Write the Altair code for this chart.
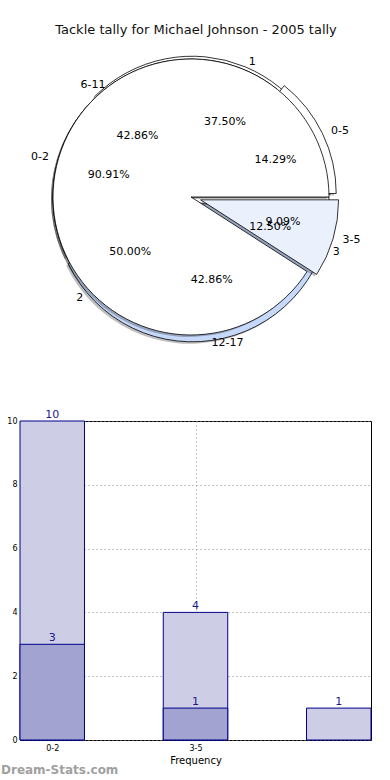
import math
import altair as alt
import pandas as pd

# ---------------- data ----------------
title_text = "Tackle tally for Michael Johnson - 2005 tally"

pie_a_labels = ["0-2", "3-5"]
pie_a_values = [10, 1]
pie_b_labels = ["0-5", "6-11", "12-17"]
pie_b_values = [1, 3, 3]
pie_c_labels = ["1", "2", "3"]
pie_c_values = [3, 4, 1]

bar_categories = ["0-2", "3-5"]
bar_total_values = [10, 4, 1]
bar_low_values = [3, 1]
x_title = "Frequency"
watermark = "Dream-Stats.com"

# ---------------- styles ----------------
FONT = "DejaVu Sans"
CX, CY, R = 171, 197, 138
RX, RY = 143, 130  # label ellipse
pie_a_colors = {"0-2": "#ffffff", "3-5": "#ebf1fc"}
pie_b_colors = {"0-5": "#ffffff", "6-11": "#ffffff", "12-17": "#c6d9fb"}
pie_c_colors = {"1": "#ffffff", "2": "#ffffff", "3": "#ffffff"}
pie_a_explode = {"3-5": 10}
pie_b_explode = {"0-5": 8, "12-17": 7}
pie_c_explode = {"1": 3}


def map_expr(d, default):
    expr = default
    for k, v in d.items():
        expr = f"datum.label === '{k}' ? {v} : ({expr})"
    return expr


def pie_base(labels, values, explode, colors):
    df = pd.DataFrame({"label": labels, "value": values})
    col_map = {k: f"'{v}'" for k, v in colors.items()}
    return (
        alt.Chart(df)
        .transform_joinaggregate(total="sum(value)")
        .transform_window(cum="sum(value)", frame=[None, 0])
        .transform_calculate(
            a0="2*PI*(datum.cum - datum.value)/datum.total",
            a1="2*PI*datum.cum/datum.total",
        )
        .transform_calculate(
            am="(datum.a0 + datum.a1)/2",
            ex=map_expr(explode, "0"),
            col=map_expr(col_map, "'#ffffff'"),
        )
        .transform_calculate(
            ox=f"{CX} + datum.ex*cos(datum.am)",
            oy=f"{CY} - datum.ex*sin(datum.am)",
            t0="PI/2 - datum.a1",
            t1="PI/2 - datum.a0",
        )
        .transform_calculate(
            sx="datum.ox - 2",
            sy="datum.oy + 2",
            lx=f"datum.ox + {1.1 * RX}*cos(datum.am)",
            ly=f"datum.oy - {1.1 * RY}*sin(datum.am)",
            px=f"datum.ox + {0.6 * RX}*cos(datum.am)",
            py=f"datum.oy - {0.6 * RY}*sin(datum.am)",
            pct="format(100*datum.value/datum.total, '.2f') + '%'",
        )
    )


def pie_wedges(labels, values, colors, explode):
    base = pie_base(labels, values, explode, colors)
    shadow = base.mark_arc(radius=R, fill="#000000", fillOpacity=0.25).encode(
        x=alt.X("sx:Q", scale=None),
        y=alt.Y("sy:Q", scale=None),
        theta=alt.Theta("t0:Q", scale=None),
        theta2="t1:Q",
    )
    wedges = base.mark_arc(radius=R, stroke="#000000", strokeWidth=0.8).encode(
        x=alt.X("ox:Q", scale=None),
        y=alt.Y("oy:Q", scale=None),
        theta=alt.Theta("t0:Q", scale=None),
        theta2="t1:Q",
        fill=alt.Fill("col:N", scale=None),
    )
    return shadow + wedges


def pie_texts(labels, values, explode, colors):
    base = pie_base(labels, values, explode, colors)
    lab = base.mark_text(font=FONT, fontSize=11, color="#000000", align="center", baseline="middle").encode(
        x=alt.X("lx:Q", scale=None), y=alt.Y("ly:Q", scale=None), text="label:N"
    )
    pct = base.mark_text(font=FONT, fontSize=11, color="#000000", align="center", baseline="middle").encode(
        x=alt.X("px:Q", scale=None), y=alt.Y("py:Q", scale=None), text="pct:N"
    )
    return lab + pct


title_df = pd.DataFrame({"t": [title_text]})
title_layer = alt.Chart(title_df).mark_text(
    font=FONT, fontSize=13, color="#111111", align="center", baseline="middle"
).encode(x=alt.value(176), y=alt.value(30), text="t:N")

pie = alt.layer(
    pie_wedges(pie_c_labels, pie_c_values, pie_c_colors, pie_c_explode),
    pie_wedges(pie_b_labels, pie_b_values, pie_b_colors, pie_b_explode),
    pie_wedges(pie_a_labels, pie_a_values, pie_a_colors, pie_a_explode),
    pie_texts(pie_c_labels, pie_c_values, pie_c_explode, pie_c_colors),
    pie_texts(pie_b_labels, pie_b_values, pie_b_explode, pie_b_colors),
    pie_texts(pie_a_labels, pie_a_values, pie_a_explode, pie_a_colors),
    title_layer,
).properties(width=351, height=400)

# ---------------- bar chart ----------------
HALF = 0.225
total_df = pd.DataFrame({"pos": list(range(len(bar_total_values))), "value": bar_total_values})
low_df = pd.DataFrame({"pos": list(range(len(bar_low_values))), "value": bar_low_values})

label_expr = "''"
for i in reversed(range(len(bar_categories))):
    label_expr = f"datum.value == {i} ? '{bar_categories[i]}' : ({label_expr})"

xscale = alt.Scale(domain=[-HALF, len(bar_total_values) - 1 + HALF], nice=False, zero=False)
yscale = alt.Scale(domain=[0, 10], nice=False)

x_axis = alt.Axis(
    values=list(range(len(bar_categories))),
    labelExpr=label_expr,
    title=x_title,
    grid=True,
    gridDash=[1, 3],
    gridColor="#8c8c8c",
    gridWidth=1,
    ticks=False,
    domain=False,
    labelFont=FONT,
    labelFontSize=8,
    labelColor="#000000",
    labelPadding=4,
    titleFont=FONT,
    titleFontSize=10,
    titleFontWeight="normal",
    titleColor="#000000",
    titlePadding=3,
)
y_axis = alt.Axis(
    values=[0, 2, 4, 6, 8, 10],
    title=None,
    grid=True,
    gridDash=[1, 3],
    gridColor="#8c8c8c",
    gridWidth=1,
    ticks=False,
    domain=False,
    labelFont=FONT,
    labelFontSize=8,
    labelColor="#000000",
    labelPadding=3,
)


def bar_layers(df, color):
    base = alt.Chart(df).transform_calculate(
        x0=f"datum.pos - {HALF}", x1=f"datum.pos + {HALF}"
    )
    rect = base.mark_rect(fill=color, stroke="#00008b", strokeWidth=1).encode(
        x=alt.X("x0:Q", scale=xscale, axis=x_axis, title=x_title),
        x2="x1:Q",
        y=alt.Y("value:Q", scale=yscale, axis=y_axis, title=None),
        y2=alt.datum(0),
    )
    txt = base.mark_text(
        font=FONT, fontSize=11, color="#1a1a8c", align="center", baseline="bottom", dy=-1
    ).encode(
        x=alt.X("pos:Q", scale=xscale, axis=x_axis, title=x_title),
        y=alt.Y("value:Q", scale=yscale, axis=y_axis, title=None),
        text="value:Q",
    )
    return rect + txt


wm_df = pd.DataFrame({"t": [watermark]})
wm = alt.Chart(wm_df).mark_text(
    font=FONT, fontSize=12, fontWeight="bold", color="#a0a0a0", align="left", baseline="middle"
).encode(x=alt.value(-19), y=alt.value(349), text="t:N")

bars = alt.layer(
    bar_layers(total_df, "#cdcde5"),
    bar_layers(low_df, "#a2a3d1"),
    wm,
).properties(width=351, height=319, view=alt.ViewBackground(stroke="#000000", strokeWidth=1))

chart = (
    alt.vconcat(pie, bars, spacing=21, bounds="flush")
    .properties(padding=0, background="#ffffff")
    .configure_view(stroke=None)
)

chart.save("out.html", embed_options={"renderer": "svg", "actions": False})
